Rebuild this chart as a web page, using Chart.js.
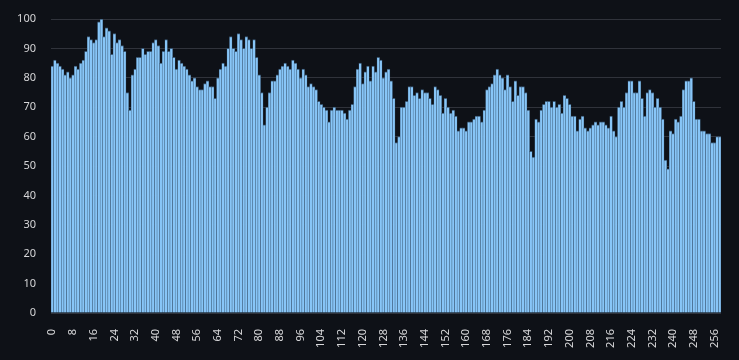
<!DOCTYPE html>
<html>
<head>
<meta charset="utf-8">
<script src="https://cdn.jsdelivr.net/npm/chart.js@4"></script>
<style>
  html, body { margin: 0; padding: 0; background: #0e1117; }
  #wrap { width: 739px; height: 360px; }
</style>
</head>
<body>
<div id="wrap"><canvas id="c" width="739" height="360"></canvas></div>
<script>
// ---- data ----
const values = [
  84, 86, 85, 84, 83, 81, 82, 80, 81, 84, 83, 85, 86, 89, 94, 93, 92, 93, 99, 100,
  94, 97, 96, 88, 95, 92, 93, 91, 89, 75, 69, 81, 83, 87, 87, 90, 88, 89, 89, 92,
  93, 91, 85,
  89, 93, 89, 90, 87, 83, 86, 85, 84, 83, 81, 79, 80, 77, 76, 76, 78, 79, 77, 77,
  73, 80, 83, 85, 84, 90, 94, 90, 89, 95, 93, 90, 94, 93, 90, 93, 87, 81, 75, 64,
  70, 75, 79, 79,
  81, 83, 84, 85, 84, 83, 86, 85, 83, 80, 83, 81, 77, 78, 77, 76, 72, 71, 70, 69,
  65, 69, 70, 69, 69, 69, 68, 66, 69, 71, 77, 83, 85, 78, 82, 84, 79, 84, 82, 87,
  86,
  80, 82, 83, 79, 73, 58, 60, 70, 70, 72, 77, 77, 74, 75, 73, 76, 75, 75, 73, 71,
  77, 76, 74, 68, 73, 70, 68, 69, 67, 62, 63, 63, 62, 65, 65, 66, 67, 67, 65, 69,
  76, 77, 78, 81, 83,
  81, 80, 76, 81, 77, 72, 79, 74, 77, 77, 75, 69, 55, 53, 66, 65, 69, 71, 72, 72,
  70, 72, 70, 71, 68, 74, 73, 71, 67, 67, 62, 66, 67, 63, 62, 63, 64, 65, 64, 65,
  65, 64,
  63, 67, 62, 60, 70, 72, 70, 75, 79, 79, 75, 75, 79, 73, 67, 75, 76, 75, 70, 73,
  70, 66, 52, 49, 62, 61, 66, 65, 67, 76, 79, 79, 80, 72, 66, 66, 62, 62, 61, 61,
  58, 58, 60, 60
];
const categories = values.map((_, i) => String(i));
const xTickEvery = 8;
const yMin = 0;
const yMax = 100;
const yStep = 10;

const textColor = '#d6d6d8';
const gridColor = '#30333b';
const fontSpec = { family: "'Noto Sans', 'Liberation Sans', sans-serif", size: 11 };

new Chart(document.getElementById('c'), {
  type: 'bar',
  data: {
    labels: categories,
    datasets: [{
      data: values,
      backgroundColor: '#88c6f8',
      borderColor: '#3a5874',
      borderWidth: { top: 1, left: 0.5, right: 0.5, bottom: 0 },
      barPercentage: 1.0,
      categoryPercentage: 1.0
    }]
  },
  options: {
    responsive: false,
    devicePixelRatio: 1,
    animation: false,
    layout: { padding: { top: 19, right: 18, bottom: 0, left: 0 } },
    plugins: { legend: { display: false }, tooltip: { enabled: false } },
    scales: {
      x: {
        grid: { display: false, drawTicks: false },
        border: { display: false },
        ticks: {
          color: textColor,
          font: fontSpec,
          autoSkip: false,
          minRotation: 90,
          maxRotation: 90,
          padding: 16,
          callback: function (val, i) { return i % xTickEvery === 0 ? categories[i] : ''; }
        },
        afterFit: function (s) { s.height = 47; s.paddingLeft = 0; s.paddingRight = 0; }
      },
      y: {
        min: yMin,
        max: yMax,
        grid: { color: gridColor, drawTicks: false, lineWidth: 1 },
        border: { display: false },
        ticks: { color: textColor, font: fontSpec, stepSize: yStep, padding: 15 },
        afterFit: function (s) { s.width = 51; s.paddingTop = 0; s.paddingBottom = 0; }
      }
    }
  }
});
</script>
</body>
</html>
